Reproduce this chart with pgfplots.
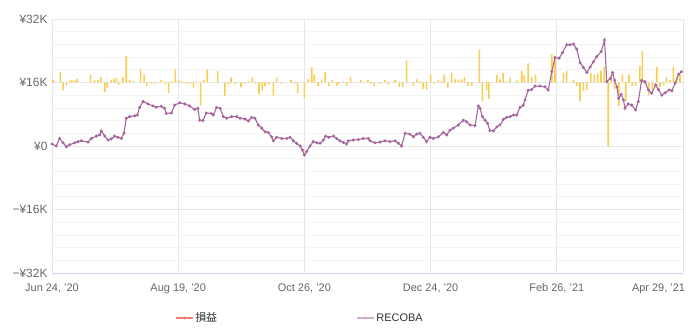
\documentclass[border=0pt]{standalone}
\usepackage{fontspec}
\setmainfont{Liberation Sans}
\newfontfamily\cjk{Noto Sans CJK JP}
\usepackage{pgfplots}
\pgfplotsset{compat=1.18}
\definecolor{barc}{HTML}{F8CD50}
\definecolor{linec}{HTML}{A5679C}
\definecolor{gridc}{HTML}{E6E6E6}
\definecolor{minorc}{HTML}{F3F3F3}
\definecolor{axisc}{HTML}{CCD6EB}
\definecolor{labc}{HTML}{666666}
\definecolor{legtext}{HTML}{333333}
\definecolor{legred}{HTML}{EE7A73}
\definecolor{legpur}{HTML}{CDB0CA}
\pgfplotsset{common/.style={width=631bp,height=254bp,scale only axis,
  at={(52bp,58bp)},anchor=south west,xmin=0,xmax=250,enlargelimits=false}}
\begin{document}
\begin{tikzpicture}
\path[use as bounding box] (0,0) rectangle (691bp,331bp);
% frame, grid, ticks, legend
\begin{axis}[common, ymin=-32, ymax=32,
  separate axis lines,
  axis x line*=bottom, axis y line*=left,
  x axis line style={draw=axisc,-},
  y axis line style={draw=none,-},
  xtick={0,50,100,150,200,250},
  xticklabels={{Jun 24, '20},{Aug 19, '20},{Oct 26, '20},{Dec 24, '20},{Feb 26, '21},{\makebox[4bp][r]{Apr 29, '21}}},
  ytick={-32,-16,0,16,32},
  yticklabels={−¥32K,−¥16K,¥0,¥16K,¥32K},
  minor y tick num=4,
  xmajorgrids, ymajorgrids, yminorgrids,
  major grid style={gridc, line width=0.7bp},
  minor grid style={minorc, line width=0.7bp},
  major tick length=0pt, minor tick length=0pt,
  xticklabel style={font=\fontsize{11}{13}\selectfont, text=labc, yshift=-7bp},
  yticklabel style={font=\fontsize{12}{14}\selectfont, text=labc, xshift=-1bp},
  legend columns=2,
  legend cell align=left,
  legend style={draw=none, fill=none,
    at={(axis description cs:0.19,-0.177)}, anchor=west,
    font=\fontsize{11}{13}\selectfont\color{legtext},
    /tikz/every even column/.append style={column sep=137bp}},
]
\addlegendimage{legred, line width=1.2bp, mark=*, mark size=0.8bp}
\addlegendentry{{\cjk 損益}}
\addlegendimage{legpur, line width=1.2bp, mark=*, mark size=0.8bp}
\addlegendentry{RECOBA}
\end{axis}
% daily bars (secondary scale, zero at the 16K level)
\begin{axis}[common, hide axis, ymin=-48, ymax=16, clip=false]
\addplot[ybar, bar width=1.6bp, bar shift=0pt, fill=barc, draw=none] coordinates {
(0.4,0.6)(3.3,2.6)(4.4,-2.0)(5.7,-0.7)(7.0,0.5)(7.9,0.6)(9.0,0.5)(10.0,0.9)(15.3,2.0)(16.9,0.6)(18.2,0.6)(19.3,1.4)(20.9,-2.4)(21.9,-1.3)(23.5,0.6)(24.6,0.9)(25.5,1.2)(26.4,-0.6)(28.1,1.4)(29.4,6.8)(30.8,0.6)(32.1,0.3)(35.1,3.4)(36.5,2.0)(37.6,-0.9)(39.4,-0.3)(40.7,-0.3)(43.3,0.6)(44.9,-0.5)(46.2,-2.6)(47.5,0.3)(48.9,3.3)(50.2,0.6)(51.5,0.3)(53.6,-0.3)(54.9,-0.3)(56.0,-1.3)(57.2,0.3)(58.9,-5.8)(60.2,0.6)(61.5,3.3)
(65.6,2.9)(68.5,-3.3)(69.9,-0.5)(70.9,1.2)(72.5,-0.3)(74.9,-1.2)(76.2,-0.3)(77.8,0.3)(79.4,1.4)(80.7,-0.3)(82.0,-3.0)(83.3,-1.9)(84.4,-0.9)(86.0,-0.5)(87.7,-3.3)(89.0,1.2)(90.7,-0.3)(94.7,0.6)(96.0,-0.3)(97.3,-2.8)(100.0,-3.9)(101.6,0.9)(102.9,3.9)(103.9,2.0)(105.5,-0.9)(106.8,0.8)(108.2,2.6)(109.7,-0.9)(111.1,0.6)(112.8,-0.8)(113.8,-0.3)(115.4,0.3)(116.7,-0.8)(118.3,1.4)(122.4,0.6)(125.1,0.6)
(126.4,-0.3)(127.7,-0.9)(130.0,-0.3)(131.9,0.6)(133.3,-0.5)(135.9,0.6)(137.6,-1.1)(138.9,-1.1)(140.5,5.6)(143.2,-0.9)(144.5,0.8)(145.8,0.3)(147.1,-1.6)(148.4,-1.8)(150.0,2.0)(151.5,-0.3)(153.1,0.6)(154.4,0.3)(155.4,2.0)(156.8,-1.3)(158.3,2.4)(159.7,0.8)(161.0,0.8)(162.3,0.8)(163.4,1.4)(164.9,-0.9)(166.3,-0.8)(169.3,8.3)(170.5,-4.7)(172.2,-1.9)(173.1,-4.1)(176.2,2.0)(177.5,0.8)(178.8,2.4)(180.1,0.3)(181.5,1.2)(184.1,0.6)(186.1,2.9)(187.1,1.8)(188.7,4.8)
(190.0,1.4)(191.6,2.0)(198.0,7.1)(199.3,6.6)(202.6,2.4)(203.9,2.9)(206.6,0.6)(207.9,-0.9)(209.2,-4.7)(210.5,-2.2)(211.9,-1.9)(213.5,2.4)(214.9,2.0)(216.2,2.3)(217.5,2.9)(218.8,3.9)(220.4,-16.0)(221.5,1.8)(222.8,-1.7)(224.6,-6.0)(226.0,2.0)(227.3,-4.7)(228.6,2.0)(229.9,-0.9)(231.2,-0.8)(232.9,4.2)(233.9,7.9)(234.9,-0.5)(236.5,-3.2)(237.9,-1.8)(239.6,3.9)(240.9,-1.1)(242.3,-0.7)(243.5,1.3)(244.9,0.6)(246.2,4.0)(247.5,1.5)(248.8,1.9)
};
\end{axis}
% cumulative line
\begin{axis}[common, hide axis, ymin=-32, ymax=32, clip=false]
\addplot[linec, line width=1.1bp, mark=*, mark size=0.9bp, mark options={fill=linec, draw=linec}] coordinates {
(0,0.5)(1.7,0.0)(3.0,1.9)(4.4,0.8)(5.7,-0.2)(7.0,0.3)(9.0,0.8)(10.3,1.1)(11.6,1.3)(14.3,1.0)(15.6,1.9)(17.6,2.5)(18.9,2.8)(19.5,3.8)(20.9,2.5)(22.2,1.5)(23.5,1.8)(24.8,2.5)(26.1,2.2)(27.5,1.9)(28.5,3.2)(29.4,7.0)(30.8,7.4)(32.8,7.6)(33.8,7.8)(34.7,9.7)(36.1,11.2)(38.0,10.6)(40.0,10.1)(41.3,9.8)(43.3,10.0)(44.6,9.5)(45.3,8.2)(47.3,8.3)(48.6,10.3)(50.6,10.9)(52.6,10.6)(54.5,10.1)(56.5,9.2)(57.8,9.5)(58.5,6.5)(59.8,6.4)(61.1,8.3)(63.1,8.2)
(63.9,7.8)(65.2,9.7)(66.6,9.5)(67.9,7.4)(69.2,7.0)(71.2,7.4)(73.2,7.4)(74.5,7.0)(76.5,6.8)(77.8,6.3)(79.1,7.2)(80.4,7.0)(81.7,5.3)(83.1,4.5)(84.4,3.6)(85.7,3.4)(87.0,2.3)(87.7,1.3)(89.0,2.2)(91.0,1.9)(93.0,1.9)(94.3,2.2)(95.6,1.3)(96.9,0.7)(98.3,0.0)(99.2,-1.0)(100.0,-2.3)(100.9,-1.4)(102.2,0.0)(103.5,1.1)(104.9,0.8)(106.2,0.7)(107.5,1.5)(108.4,2.5)(109.7,2.2)(111.5,2.5)(112.8,1.9)(114.1,1.3)(115.4,0.9)(116.7,0.5)(117.4,1.3)(119.4,1.5)(121.4,1.6)(123.3,1.9)(125.3,1.9)
(126.0,1.3)(128.0,0.8)(130.0,1.0)(131.9,1.3)(133.9,1.1)(135.9,1.3)(137.2,0.7)(138.5,0.0)(139.9,3.2)(141.8,3.0)(143.2,2.3)(144.5,3.0)(145.8,3.2)(147.1,2.2)(148.4,1.1)(149.8,2.2)(151.1,1.9)(153.1,2.3)(155.0,3.4)(156.4,2.8)(157.7,4.0)(159.0,4.5)(161.0,5.3)(163.0,6.5)(164.3,6.1)(165.6,5.3)(167.6,5.1)(168.9,10.1)(169.6,9.5)(170.5,7.4)(171.6,6.5)(172.6,5.7)(173.5,3.9)(174.9,3.8)(176.2,4.8)(177.5,5.3)(178.8,6.7)(180.1,7.2)(181.5,7.4)(182.8,7.8)(184.1,7.8)(185.4,9.7)(186.7,10.3)(187.4,11.6)
(188.6,14.0)(190.0,14.2)(191.4,15.1)(193.3,15.1)(195.3,14.9)(196.6,14.1)(198.0,18.7)(199.3,22.3)(200.9,22.1)(202.2,23.5)(203.9,25.5)(205.2,25.5)(206.6,25.7)(207.9,24.4)(209.2,21.0)(210.5,19.8)(211.9,18.5)(213.2,19.9)(214.5,21.2)(215.8,22.5)(217.6,23.8)(218.9,26.7)(219.8,16.2)(221.2,17.0)(222.1,18.5)(222.9,16.6)(223.8,14.9)(224.5,12.0)(225.5,13.0)(226.4,11.6)(227.0,9.5)(228.3,10.6)(229.7,10.3)(231.2,9.1)(232.3,11.2)(233.6,16.5)(234.9,16.2)(236.3,14.1)(237.6,13.3)(239.2,15.4)(240.3,14.2)(241.6,12.8)(242.9,13.4)(244.5,14.1)(245.6,13.9)(246.9,15.9)(248.3,18.1)(249.4,18.7)
};
\end{axis}
\end{tikzpicture}
\end{document}
